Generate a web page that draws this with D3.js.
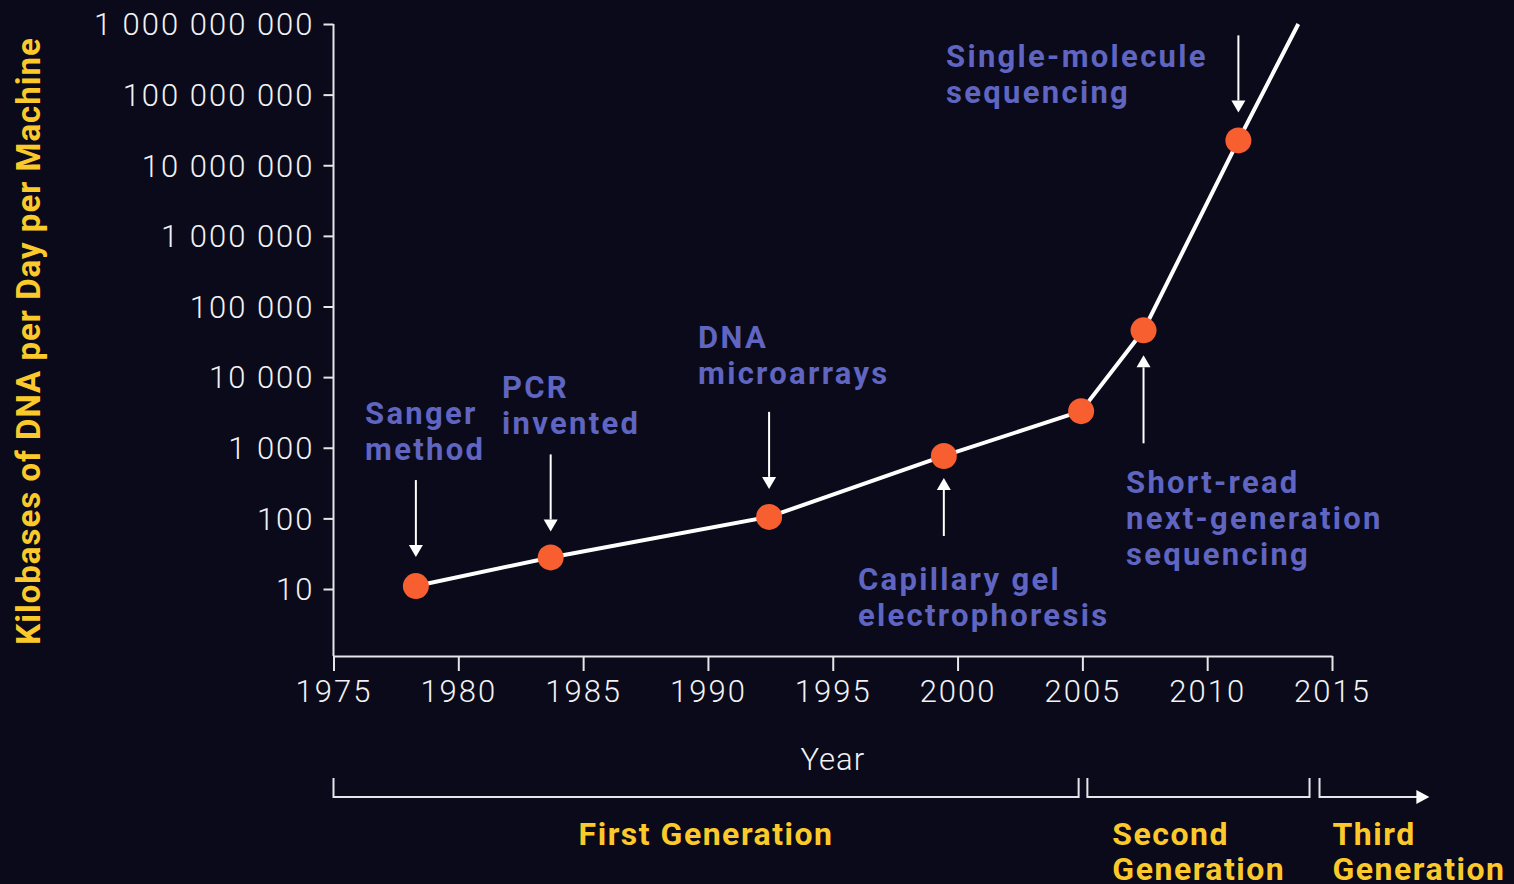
<!DOCTYPE html>
<html>
<head>
<meta charset="utf-8">
<script src="https://cdn.jsdelivr.net/npm/d3@7"></script>
<style>
  html, body { margin: 0; padding: 0; background: #0a0a1a; }
  svg { display: block; }
</style>
</head>
<body>
<svg id="chart" width="1514" height="884"></svg>
<script>
// Sequencing throughput milestones (kilobases per day per machine)
const milestoneNames = [
  ["Sanger", "method"],
  ["PCR", "invented"],
  ["DNA", "microarrays"],
  ["Capillary gel", "electrophoresis"],
  null,
  ["Short-read", "next-generation", "sequencing"],
  ["Single-molecule", "sequencing"]
];
const years  = [1978.3, 1983.7, 1992.45, 1999.45, 2004.95, 2007.45, 2011.25];
const values = [11, 28, 105, 765, 3300, 46000, 22500000];

// trend continues beyond the last milestone
const trendEndYear = 2013.65;
const trendEndValue = 1e9;

const yTickValues = [10, 100, 1e3, 1e4, 1e5, 1e6, 1e7, 1e8, 1e9];
const xTickValues = [1975, 1980, 1985, 1990, 1995, 2000, 2005, 2010, 2015];

const generationNames = [["First Generation"], ["Second", "Generation"], ["Third", "Generation"]];
const generationStart = [1975, 2005.2, 2014.5];
const generationEnd   = [2004.85, 2014.1, 2018.9];

// ---- layout ----
const W = 1514, H = 884;
const plotLeft = 333.5, plotRight = 1332, plotTop = 24, plotBottom = 656;
const COL_BG = "#0a0a1a", COL_AXIS = "#e6e6ea", COL_LABEL = "#5f65c0",
      COL_GOLD = "#fcc92b", COL_DOT = "#f75e30";

const svg = d3.select("#chart");
svg.append("rect").attr("width", W).attr("height", H).attr("fill", COL_BG);

const x = d3.scaleLinear().domain([1975, 2015]).range([plotLeft, plotRight]);
const y = d3.scaleLog().domain([10, 1e9]).range([589, plotTop]);

const tickFont = "Roboto, 'Open Sans', sans-serif";
const boldFont = "Roboto, 'Open Sans', sans-serif";

// ---- y axis ----
const fmt = v => d3.format(",")(v).replace(/,/g, " ");
const yAxis = svg.append("g")
  .attr("transform", `translate(${plotLeft},0)`)
  .call(d3.axisLeft(y).tickValues(yTickValues).tickFormat(fmt).tickSize(10).tickPadding(9));
yAxis.select(".domain").remove();
yAxis.selectAll(".tick line").attr("stroke", COL_AXIS).attr("stroke-width", 2);
yAxis.selectAll(".tick text")
  .attr("fill", "#f2f2f4")
  .attr("font-family", tickFont)
  .attr("font-weight", 300)
  .attr("font-size", 31)
  .attr("letter-spacing", "2px")
  .attr("dy", "0.35em");
svg.append("line")
  .attr("x1", plotLeft).attr("x2", plotLeft)
  .attr("y1", plotTop).attr("y2", plotBottom)
  .attr("stroke", COL_AXIS).attr("stroke-width", 2);

// ---- x axis ----
const xAxis = svg.append("g")
  .attr("transform", `translate(0,${plotBottom})`)
  .call(d3.axisBottom(x).tickValues(xTickValues).tickFormat(d3.format("d")).tickSize(15).tickSizeOuter(0).tickPadding(9));
xAxis.select(".domain").attr("stroke", COL_AXIS).attr("stroke-width", 2);
xAxis.selectAll(".tick line").attr("stroke", COL_AXIS).attr("stroke-width", 2);
xAxis.selectAll(".tick text")
  .attr("fill", "#f2f2f4")
  .attr("font-family", tickFont)
  .attr("font-weight", 300)
  .attr("font-size", 31)
  .attr("letter-spacing", "2px");

svg.append("text")
  .attr("x", x(1995)).attr("y", 770)
  .attr("text-anchor", "middle")
  .attr("fill", "#f2f2f4")
  .attr("font-family", tickFont)
  .attr("font-weight", 300)
  .attr("font-size", 31)
  .attr("letter-spacing", "1px")
  .text("Year");

// ---- y axis title ----
svg.append("text")
  .attr("transform", `translate(40,341) rotate(-90)`)
  .attr("text-anchor", "middle")
  .attr("fill", COL_GOLD)
  .attr("font-family", boldFont)
  .attr("font-weight", 700)
  .attr("font-size", 33)
  .attr("letter-spacing", "1px")
  .text("Kilobases of DNA per Day per Machine");

// ---- trend line and milestones ----
const linePts = years.map((yr, i) => [yr, values[i]]).concat([[trendEndYear, trendEndValue]]);
svg.append("path")
  .datum(linePts)
  .attr("fill", "none")
  .attr("stroke", "#ffffff")
  .attr("stroke-width", 4)
  .attr("d", d3.line().x(d => x(d[0])).y(d => y(d[1])));

svg.append("g").selectAll("circle")
  .data(years.map((yr, i) => [yr, values[i]]))
  .join("circle")
  .attr("cx", d => x(d[0]))
  .attr("cy", d => y(d[1]))
  .attr("r", 13)
  .attr("fill", COL_DOT);

// ---- annotations: arrows + labels ----
// dir: +1 arrow comes from above pointing down, -1 from below pointing up
const annLayout = [
  { i: 0, dir: 1, gap: 29, len: 77, tx: 365, ty: 424 },
  { i: 1, dir: 1, gap: 26, len: 77, tx: 502, ty: 398 },
  { i: 2, dir: 1, gap: 28, len: 77, tx: 698, ty: 348 },
  { i: 3, dir: -1, gap: 22, len: 58, tx: 858, ty: 590 },
  { i: 5, dir: -1, gap: 25, len: 88, tx: 1126, ty: 493 },
  { i: 6, dir: 1, gap: 28, len: 77, tx: 946, ty: 67 }
];
const lineGap = 36;
const arrows = svg.append("g");
annLayout.forEach(a => {
  const px = x(years[a.i]), py = y(values[a.i]);
  const tipY = py - a.dir * a.gap;
  const baseY = tipY - a.dir * a.len;
  const headH = 12, headW = 7;
  arrows.append("line")
    .attr("x1", px).attr("x2", px)
    .attr("y1", baseY).attr("y2", tipY - a.dir * headH)
    .attr("stroke", "#ffffff").attr("stroke-width", 2);
  arrows.append("path")
    .attr("d", `M${px},${tipY} L${px - headW},${tipY - a.dir * headH} L${px + headW},${tipY - a.dir * headH} Z`)
    .attr("fill", "#ffffff");
  const t = svg.append("text")
    .attr("fill", COL_LABEL)
    .attr("font-family", boldFont)
    .attr("font-weight", 700)
    .attr("font-size", 31)
    .attr("letter-spacing", "2.3px");
  milestoneNames[a.i].forEach((ln, k) => {
    t.append("tspan").attr("x", a.tx).attr("y", a.ty + k * lineGap).text(ln);
  });
});

// ---- generation brackets ----
const bracketY = 797, bracketTick = 19;
const gens = svg.append("g");
generationNames.forEach((names, g) => {
  const x0 = x(generationStart[g]), x1 = x(generationEnd[g]);
  if (g < 2) {
    gens.append("path")
      .attr("d", `M${x0},${bracketY - bracketTick} V${bracketY} H${x1} V${bracketY - bracketTick}`)
      .attr("fill", "none").attr("stroke", COL_AXIS).attr("stroke-width", 2);
  } else {
    gens.append("path")
      .attr("d", `M${x0},${bracketY - bracketTick} V${bracketY} H${x1 - 12}`)
      .attr("fill", "none").attr("stroke", COL_AXIS).attr("stroke-width", 2);
    gens.append("path")
      .attr("d", `M${x1},${bracketY} L${x1 - 13},${bracketY - 7} L${x1 - 13},${bracketY + 7} Z`)
      .attr("fill", "#ffffff");
  }
  const t = gens.append("text")
    .attr("fill", COL_GOLD)
    .attr("font-family", boldFont)
    .attr("font-weight", 700)
    .attr("font-size", 32)
    .attr("letter-spacing", "1.5px");
  if (g === 0) {
    t.attr("text-anchor", "middle");
    t.append("tspan").attr("x", (x0 + x1) / 2 + 0).attr("y", 845).text(names[0]);
  } else {
    const lx = g === 1 ? x0 + 25 : x0 + 13;
    names.forEach((ln, k) => t.append("tspan").attr("x", lx).attr("y", 845 + k * 35).text(ln));
  }
});
</script>
</body>
</html>
